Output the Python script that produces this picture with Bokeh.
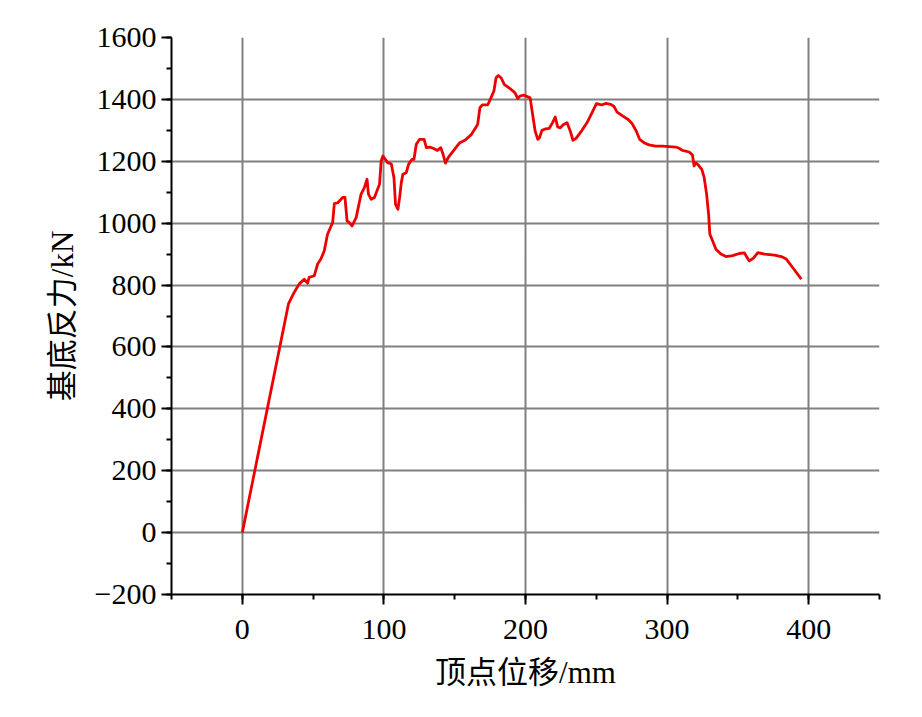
from bokeh.plotting import figure
from bokeh.models import Range1d, SingleIntervalTicker, FixedTicker, CustomJSTickFormatter
from bokeh.embed import file_html
from bokeh.resources import INLINE

# Data
disp_mm = [0, 32.6, 36.6, 40.1, 43.7, 46.1, 47.2, 50.8, 53.2, 55.5, 57.9, 60.2, 63.8, 65.0, 67.4,
           70.9, 72.5, 74.0, 75.6, 77.5, 80.4, 83.9, 86.2, 88.1, 89.1, 91.0, 93.3, 96.9, 98.1, 99.3,
           102.8, 105.2, 107.1, 108.2, 109.9, 111.1, 112.3, 113.4, 115.8, 117.4, 119.8, 121.2, 122.9,
           125.2, 128.4, 130.0, 132.3, 134.8, 137.8, 140.2, 141.8, 143.5, 145.4, 148.9, 153.6, 157.2,
           161.9, 166.2, 167.8, 169.5, 173.3, 175.6, 177.7, 179.2, 180.8, 182.7, 185.1, 189.1, 192.6,
           194.5, 196.2, 198.6, 203.3, 205.0, 206.8, 208.7, 209.9, 211.6, 214.4, 216.7, 219.1, 221.0,
           222.7, 224.5, 226.4, 229.3, 231.6, 233.5, 235.7, 239.9, 243.5, 247.0, 250.1, 253.6, 256.9,
           260.0, 262.4, 264.7, 268.8, 272.5, 275.4, 278.2, 280.6, 283.7, 287.2, 291.9, 296.7, 306.1,
           308.5, 310.8, 315.6, 317.9, 319.1, 320.3, 322.0, 324.5, 326.2, 327.9, 329.3, 330.2, 332.1,
           334.5, 338.0, 341.5, 346.3, 351.0, 354.6, 356.2, 358.1, 361.0, 364.1, 368.8, 375.9, 380.6,
           384.2, 388.9, 394.8]
force_kn = [0, 739, 776, 803, 819, 806, 825, 830, 868, 884, 911, 964, 1002, 1063, 1066,
            1083, 1083, 1007, 1002, 991, 1018, 1094, 1115, 1142, 1094, 1077, 1083, 1126, 1201, 1217,
            1195, 1192, 1147, 1061, 1045, 1083, 1131, 1158, 1163, 1190, 1206, 1206, 1255,
            1271, 1271, 1244, 1246, 1242, 1235, 1244, 1222, 1194, 1212, 1233, 1260, 1268,
            1287, 1319, 1373, 1382, 1382, 1405, 1427, 1470, 1477, 1470, 1448, 1435, 1421,
            1403, 1411, 1414, 1405, 1352, 1298, 1271, 1276, 1300, 1305, 1306, 1325, 1343,
            1311, 1308, 1317, 1325, 1298, 1268, 1274, 1300, 1325, 1357, 1386, 1382, 1387,
            1384, 1378, 1359, 1346, 1335, 1321, 1298, 1271, 1260, 1253, 1249, 1249, 1246,
            1242, 1235, 1230, 1220, 1185, 1195, 1188, 1174, 1147, 1094, 1029, 964, 943,
            916, 900, 892, 895, 902, 904, 891, 878, 887, 905, 900, 897, 892,
            884, 855, 819]
assert len(disp_mm) == len(force_kn)

x_ticks_major = 100
y_ticks_major = 200
y_grid_values = [0, 200, 400, 600, 800, 1000, 1200, 1400]

p = figure(width=900, height=700, x_range=Range1d(-50, 450), y_range=Range1d(-200, 1600),
           output_backend="svg", toolbar_location=None,
           min_border_left=171, min_border_right=21, min_border_top=37, min_border_bottom=106)
p.outline_line_color = None
p.background_fill_color = "white"
p.border_fill_color = "white"

p.line(disp_mm, force_kn, line_color="#ee0000", line_width=2.8, line_join="round")

p.xaxis.ticker = SingleIntervalTicker(interval=x_ticks_major, num_minor_ticks=2)
p.yaxis.ticker = SingleIntervalTicker(interval=y_ticks_major, num_minor_ticks=2)
p.ygrid.ticker = FixedTicker(ticks=y_grid_values)

for g in (p.xgrid, p.ygrid):
    g.grid_line_color = "#808080"
    g.grid_line_width = 2

fmt = CustomJSTickFormatter(code="return tick < 0 ? '\u2212' + Math.abs(tick) : String(tick);")
p.yaxis.formatter = fmt

for ax in (p.xaxis, p.yaxis):
    ax.axis_line_color = "black"
    ax.axis_line_width = 2
    ax.major_tick_line_color = "black"
    ax.major_tick_line_width = 2
    ax.minor_tick_line_color = "black"
    ax.minor_tick_line_width = 2
    ax.major_tick_in = 0
    ax.major_tick_out = 10
    ax.minor_tick_in = 0
    ax.minor_tick_out = 5
    ax.major_label_text_font = "Liberation Serif"
    ax.major_label_text_font_size = "30px"
    ax.major_label_text_color = "black"
    ax.axis_label_text_font = "Liberation Serif, Noto Sans CJK SC"
    ax.axis_label_text_font_size = "31px"
    ax.axis_label_text_font_style = "normal"
    ax.axis_label_text_color = "black"

p.xaxis.axis_label = "顶点位移/mm"
p.yaxis.axis_label = "基底反力/kN"
p.xaxis.major_label_standoff = 15
p.yaxis.major_label_standoff = 5
p.xaxis.axis_label_standoff = 13
p.yaxis.axis_label_standoff = 12

open("out.html", "w").write(file_html(p, INLINE))
